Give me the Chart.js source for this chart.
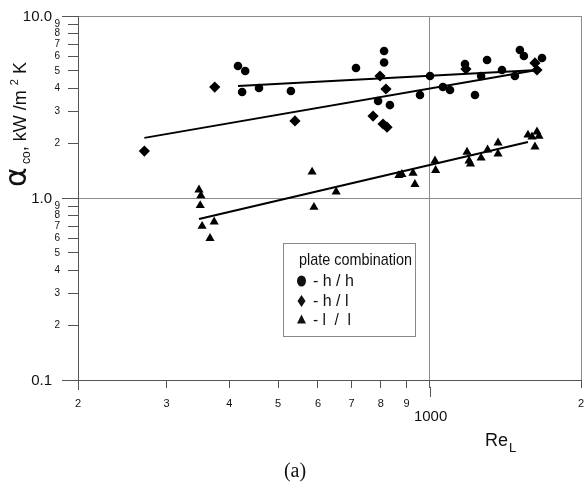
<!DOCTYPE html>
<html>
<head>
<meta charset="utf-8">
<script src="https://cdn.jsdelivr.net/npm/chart.js@4.4.1/dist/chart.umd.min.js"></script>
<style>
  html, body { margin: 0; padding: 0; background: #fff; }
  canvas { display: block; }
</style>
</head>
<body>
<canvas id="heatChart" width="584" height="486"></canvas>
<script>
// --- Data ---
const reTicks = [200, 300, 400, 500, 600, 700, 800, 900, 1000, 2000];
const alphaTicks = [0.1, 0.2, 0.3, 0.4, 0.5, 0.6, 0.7, 0.8, 0.9, 1, 2, 3, 4, 5, 6, 7, 8, 9, 10];
const majorAlpha = [10, 1, 0.1];
const majorAlphaLabels = ['10.0', '1.0', '0.1'];

// plate combination h/h
const hhRe = [416, 430, 424, 458, 530, 714, 812, 812, 790, 834, 957, 1002, 1063, 1098, 1231, 1176, 1301, 1266, 1393, 1478, 1512, 1540, 1673];
const hhAlpha = [5.31, 4.99, 3.82, 4.02, 3.87, 5.18, 6.42, 5.55, 3.41, 3.24, 3.68, 4.68, 4.07, 3.92, 3.68, 5.45, 5.73, 4.68, 5.05, 4.68, 6.51, 6.03, 5.88];
// plate combination h/l
const hlRe = [271, 374, 540, 797, 819, 772, 808, 823, 1181, 1620, 1635];
const hlAlpha = [1.81, 4.07, 2.65, 4.68, 3.97, 2.82, 2.55, 2.45, 5.11, 5.52, 5.05];
// plate combination l/l
const llRe = [348, 351, 350, 353, 373, 366, 584, 589, 652, 869, 881, 927, 935, 1025, 1028, 1187, 1198, 1206, 1266, 1304, 1368, 1368, 1569, 1598, 1635, 1650, 1620];
const llAlpha = [1.11, 1.03, 0.91, 0.70, 0.74, 0.60, 1.39, 0.89, 1.08, 1.33, 1.35, 1.37, 1.19, 1.60, 1.42, 1.79, 1.60, 1.54, 1.66, 1.84, 2.01, 1.75, 2.22, 2.17, 2.31, 2.19, 1.91];

// fitted lines (end points)
const hhFitRe = [416, 1642];
const hhFitAlpha = [4.13, 5.05];
const hlFitRe = [271, 1635];
const hlFitAlpha = [2.14, 5.05];
const llFitRe = [348, 1569];
const llFitAlpha = [0.767, 2.03];

const toPoints = (xs, ys) => xs.map((x, i) => ({ x: x, y: ys[i] }));

function mantissa(v) {
    const d = Math.pow(10, Math.floor(Math.log10(v) + 1e-9));
    return String(Math.round(v / d));
}
const isMajorAlpha = v => majorAlpha.some(m => Math.abs(v - m) < 1e-9);

const FONT = "'Liberation Sans', Arial, sans-serif";

// text squeezed to a given width (the legend uses a narrow face)
function narrowText(ctx, text, x, y, width) {
    const w = ctx.measureText(text).width;
    ctx.save();
    ctx.translate(x, y);
    ctx.scale(Math.min(1, width / w), 1);
    ctx.fillText(text, 0, 0);
    ctx.restore();
}

// --- Extra drawing: titles, major labels, long ticks, legend ---
const decorPlugin = {
    id: 'decor',
    afterDraw(chart) {
        const ctx = chart.ctx;
        const xs = chart.scales.x;
        const ys = chart.scales.y;
        ctx.save();
        ctx.fillStyle = '#111';
        ctx.strokeStyle = '#555';
        ctx.lineWidth = 1;

        // long ticks on the majors
        majorAlpha.forEach(v => {
            const py = Math.round(ys.getPixelForValue(v)) + 0.5;
            ctx.beginPath(); ctx.moveTo(62, py); ctx.lineTo(68, py); ctx.stroke();
        });
        [[200, 390], [1000, 397]].forEach(([v, end]) => {
            const px = Math.round(xs.getPixelForValue(v)) + 0.5;
            ctx.beginPath(); ctx.moveTo(px, 387); ctx.lineTo(px, end); ctx.stroke();
        });

        // major labels
        ctx.font = '15px ' + FONT;
        ctx.textAlign = 'right';
        ctx.textBaseline = 'middle';
        majorAlpha.forEach((v, i) => {
            ctx.fillText(majorAlphaLabels[i], 52, ys.getPixelForValue(v) + 1);
        });
        ctx.textAlign = 'center';
        ctx.fillText('1000', xs.getPixelForValue(1000) + 1, 417);

        // x title Re_L
        ctx.textAlign = 'left';
        ctx.textBaseline = 'alphabetic';
        ctx.font = '18px ' + FONT;
        ctx.fillText('Re', 485, 446);
        const reW = ctx.measureText('Re').width;
        ctx.font = '13px ' + FONT;
        ctx.fillText('L', 485 + reW + 1, 452);

        // (a)
        ctx.font = "20px 'Liberation Serif', 'Times New Roman', serif";
        ctx.textAlign = 'center';
        ctx.fillText('(a)', 295, 477);

        // y title, rotated
        ctx.save();
        ctx.translate(26, 187);
        ctx.rotate(-Math.PI / 2);
        ctx.textAlign = 'left';
        const runs = [
            ['\u03b1', "30px 'DejaVu Sans', sans-serif", 0],
            [' co', '12px ' + FONT, 4],
            [', kW /m ', '18px ' + FONT, 0],
            ['2', '11px ' + FONT, -8],
            [' K', '18px ' + FONT, 0]
        ];
        let cx = 0;
        runs.forEach(r => {
            ctx.font = r[1];
            ctx.fillText(r[0], cx, r[2]);
            cx += ctx.measureText(r[0]).width;
        });
        ctx.restore();

        // legend box
        ctx.strokeStyle = '#888';
        ctx.strokeRect(283.5, 243.5, 132, 93);
        ctx.fillStyle = '#111';
        ctx.textAlign = 'left';
        ctx.font = '17px ' + FONT;
        narrowText(ctx, 'plate combination', 299, 265, 113);
        ctx.font = '16px ' + FONT;
        narrowText(ctx, '- h / h', 313, 286, 42);
        narrowText(ctx, '- h / l', 313, 306, 38);
        narrowText(ctx, '- l  /  l', 313, 325, 38);
        // legend markers
        ctx.beginPath(); ctx.ellipse(301.5, 281, 4.5, 5.5, 0, 0, Math.PI * 2); ctx.fill();
        ctx.beginPath();
        ctx.moveTo(301.5, 295); ctx.lineTo(305.5, 301); ctx.lineTo(301.5, 307); ctx.lineTo(297.5, 301);
        ctx.closePath(); ctx.fill();
        ctx.beginPath();
        ctx.moveTo(301.5, 314.5); ctx.lineTo(306, 323.5); ctx.lineTo(297, 323.5);
        ctx.closePath(); ctx.fill();

        ctx.restore();
    }
};

// --- Chart ---
const ctx = document.getElementById('heatChart').getContext('2d');
const heatChart = new Chart(ctx, {
    type: 'scatter',
    data: {
        datasets: [
            { label: 'h/h', data: toPoints(hhRe, hhAlpha), pointStyle: 'circle', pointRadius: 4.3,
              backgroundColor: '#000', borderColor: '#000', borderWidth: 0 },
            { label: 'h/l', data: toPoints(hlRe, hlAlpha), pointStyle: 'rectRot', pointRadius: 5.6,
              backgroundColor: '#000', borderColor: '#000', borderWidth: 0 },
            { label: 'l/l', data: toPoints(llRe, llAlpha), pointStyle: 'triangle', pointRadius: 5.3,
              backgroundColor: '#000', borderColor: '#000', borderWidth: 0 },
            { label: 'fit h/h', data: toPoints(hhFitRe, hhFitAlpha), showLine: true, pointRadius: 0,
              borderColor: '#000', borderWidth: 2 },
            { label: 'fit h/l', data: toPoints(hlFitRe, hlFitAlpha), showLine: true, pointRadius: 0,
              borderColor: '#000', borderWidth: 2 },
            { label: 'fit l/l', data: toPoints(llFitRe, llFitAlpha), showLine: true, pointRadius: 0,
              borderColor: '#000', borderWidth: 2 }
        ]
    },
    options: {
        responsive: false,
        animation: false,
        devicePixelRatio: 1,
        layout: { autoPadding: false, padding: { left: 0, top: 16, right: 3, bottom: 0 } },
        plugins: { legend: { display: false }, tooltip: { enabled: false } },
        scales: {
            x: {
                type: 'logarithmic',
                min: 200,
                max: 2000,
                afterBuildTicks: s => { s.ticks = reTicks.map(v => ({ value: v })); },
                afterFit: s => { s.height = 106; s.paddingLeft = 0; s.paddingRight = 0; },
                border: { color: '#555', width: 1 },
                grid: {
                    color: c => (c.tick && (c.tick.value === 1000 || c.tick.value === 2000)) ? '#8c8c8c' : 'rgba(0,0,0,0)',
                    tickColor: '#555',
                    tickLength: 8
                },
                ticks: {
                    autoSkip: false, maxRotation: 0, padding: 9, color: '#111',
                    font: { family: FONT, size: 11 },
                    callback: v => v === 1000 ? '' : mantissa(v)
                }
            },
            y: {
                type: 'logarithmic',
                min: 0.1,
                max: 10,
                afterBuildTicks: s => { s.ticks = alphaTicks.map(v => ({ value: v })); },
                afterFit: s => { s.width = 78; s.paddingTop = 0; s.paddingBottom = 0; },
                border: { color: '#555', width: 1 },
                grid: {
                    color: c => (c.tick && (Math.abs(c.tick.value - 1) < 1e-9 || Math.abs(c.tick.value - 10) < 1e-9)) ? '#8c8c8c' : 'rgba(0,0,0,0)',
                    tickColor: '#555',
                    tickLength: 10
                },
                ticks: {
                    autoSkip: false, padding: 8, color: '#111',
                    font: { family: FONT, size: 10 },
                    callback: v => isMajorAlpha(v) ? '' : mantissa(v)
                }
            }
        }
    },
    plugins: [decorPlugin]
});
</script>
</body>
</html>
